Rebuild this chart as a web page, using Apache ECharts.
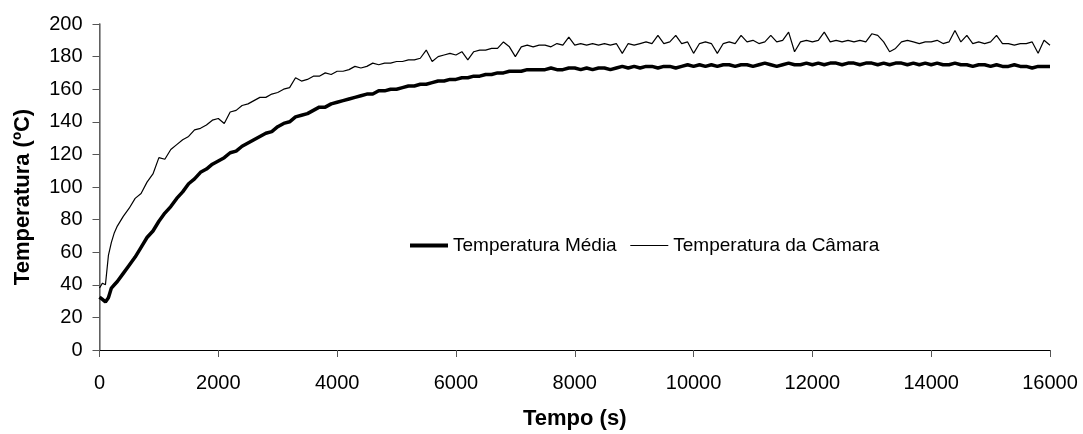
<!DOCTYPE html>
<html>
<head>
<meta charset="utf-8">
<script src="https://cdn.jsdelivr.net/npm/echarts@6/dist/echarts.min.js"></script>
<style>
html,body{margin:0;padding:0;background:#fff;}
#chart{width:1083px;height:434px;}
</style>
</head>
<body>
<div id="chart"></div>
<script>
// ---- DATA ----
const seriesNames = ['Temperatura Média', 'Temperatura da Câmara'];
const xTitle = 'Tempo (s)';
const yTitle = 'Temperatura (ºC)';

const times = [
  0, 50, 100, 150, 200, 250, 300,
  400, 500, 600, 700, 800, 900, 1000, 1100, 1200, 1300,
  1400, 1500, 1600, 1700, 1800, 1900, 2000, 2100, 2200, 2300,
  2400, 2500, 2600, 2700, 2800, 2900, 3000, 3100, 3200, 3300,
  3400, 3500, 3600, 3700, 3800, 3900, 4000, 4100, 4200, 4300,
  4400, 4500, 4600, 4700, 4800, 4900, 5000, 5100, 5200, 5300,
  5400, 5500, 5600, 5700, 5800, 5900, 6000, 6100, 6200, 6300,
  6400, 6500, 6600, 6700, 6800, 6900, 7000, 7100, 7200, 7300,
  7400, 7500, 7600, 7700, 7800, 7900, 8000, 8100, 8200, 8300,
  8400, 8500, 8600, 8700, 8800, 8900, 9000, 9100, 9200, 9300,
  9400, 9500, 9600, 9700, 9800, 9900, 10000, 10100, 10200, 10300,
  10400, 10500, 10600, 10700, 10800, 10900, 11000, 11100, 11200, 11300,
  11400, 11500, 11600, 11700, 11800, 11900, 12000, 12100, 12200, 12300,
  12400, 12500, 12600, 12700, 12800, 12900, 13000, 13100, 13200, 13300,
  13400, 13500, 13600, 13700, 13800, 13900, 14000, 14100, 14200, 14300,
  14400, 14500, 14600, 14700, 14800, 14900, 15000, 15100, 15200, 15300,
  15400, 15500, 15600, 15700, 15800, 15900, 16000
];

const tempMedia = [
  32.5, 31, 29.5, 32, 38, 40, 42,
  47, 52, 57, 63, 69, 73, 79, 84, 88, 93,
  97, 102, 105, 109, 111, 114, 116, 118, 121, 122,
  125, 127, 129, 131, 133, 134, 137, 139, 140, 143,
  144, 145, 147, 149, 149, 151, 152, 153, 154, 155,
  156, 157, 157, 159, 159, 160, 160, 161, 162, 162,
  163, 163, 164, 165, 165, 166, 166, 167, 167, 168,
  168, 169, 169, 170, 170, 171, 171, 171, 172, 172,
  172, 172, 173, 172, 172, 173, 173, 172, 173, 172,
  173, 173, 172, 173, 174, 173, 174, 173, 174, 174,
  173, 174, 174, 173, 174, 175, 174, 175, 174, 175,
  174, 175, 175, 174, 175, 175, 174, 175, 176, 175,
  174, 175, 176, 175, 175, 176, 175, 176, 175, 176,
  176, 175, 176, 176, 175, 176, 176, 175, 176, 175,
  176, 176, 175, 176, 175, 176, 175, 176, 175, 175,
  176, 175, 175, 174, 175, 175, 174, 175, 174, 174,
  175, 174, 174, 173, 174, 174, 174
];

const tempCamara = [
  38, 41, 40, 58, 66, 72, 76,
  82, 87, 93, 96, 103, 108, 118, 117, 123, 126,
  129, 131, 135, 136, 138, 141, 142, 139, 146, 147,
  150, 151, 153, 155, 155, 157, 158, 160, 161, 167,
  165, 166, 168, 168, 170, 169, 171, 171, 172, 174,
  173, 174, 176, 175, 176, 176, 177, 177, 178, 178,
  179, 184, 177, 180, 181, 182, 181, 183, 178, 183,
  184, 184, 185, 185, 189, 186, 180, 186, 187, 186,
  187, 187, 186, 188, 187, 192, 187, 188, 187, 188,
  187, 188, 187, 188, 182, 188, 187, 188, 189, 188,
  193, 188, 189, 193, 188, 189, 182, 188, 189, 188,
  182, 188, 189, 188, 193, 189, 190, 188, 189, 193,
  189, 190, 195, 183, 189, 190, 189, 190, 195, 189,
  190, 189, 190, 189, 190, 189, 194, 193, 189, 183,
  185, 189, 190, 189, 188, 189, 189, 190, 188, 189,
  196, 189, 193, 188, 189, 188, 189, 193, 188, 188,
  187, 188, 188, 189, 182, 190, 187
];

// ---- CHART ----
const FONT = '"Liberation Sans", Arial, sans-serif';
const pairs = (vals) => times.map((t, i) => [t, vals[i]]);

const chart = echarts.init(document.getElementById('chart'), null, {renderer: 'canvas'});
chart.setOption({
  animation: false,
  backgroundColor: '#ffffff',
  textStyle: {fontFamily: FONT, color: '#000'},
  grid: {left: 99.5, right: 33, top: 24, bottom: 84, containLabel: false, outerBoundsMode: 'none'},
  legend: {
    left: 403, top: 231,
    itemWidth: 38, itemHeight: 14, itemGap: 13,
    textStyle: {fontFamily: FONT, fontSize: 19, color: '#000'},
    data: [
      {name: seriesNames[0], itemStyle: {opacity: 0}, lineStyle: {width: 4, color: '#000'}},
      {name: seriesNames[1], itemStyle: {opacity: 0}, lineStyle: {width: 1.2, color: '#000'}}
    ]
  },
  xAxis: [{
    type: 'value', min: 0, max: 16000, interval: 2000,
    name: xTitle, nameLocation: 'middle', nameGap: 58,
    nameTextStyle: {fontFamily: FONT, fontSize: 22, fontWeight: 'bold', color: '#000'},
    axisLine: {onZero: false, lineStyle: {color: '#000', width: 1}},
    axisTick: {show: true, length: 7, inside: false, lineStyle: {color: '#555'}},
    axisLabel: {fontFamily: FONT, fontSize: 20, color: '#000', margin: 23,
      formatter: (v) => String(v)},
    splitLine: {show: false}
  }, {
    type: 'value', position: 'top', min: 0, max: 16000,
    axisLine: {show: true, lineStyle: {color: '#000', width: 1}},
    axisTick: {show: false}, axisLabel: {show: false}, splitLine: {show: false}
  }],
  yAxis: [{
    type: 'value', min: 0, max: 200, interval: 20,
    name: yTitle, nameLocation: 'middle', nameGap: 66, nameRotate: 90,
    nameTextStyle: {fontFamily: FONT, fontSize: 22, fontWeight: 'bold', color: '#000',
      padding: [0, 20, 0, 0]},
    axisLine: {show: true, onZero: false, lineStyle: {color: '#000', width: 1}},
    axisTick: {show: true, length: 7, lineStyle: {color: '#555'}},
    axisLabel: {fontFamily: FONT, fontSize: 20, color: '#000', margin: 17},
    splitLine: {show: false}
  }, {
    type: 'value', position: 'right', min: 0, max: 200,
    axisLine: {show: true, lineStyle: {color: '#808080', width: 1.5}},
    axisTick: {show: false}, axisLabel: {show: false}, splitLine: {show: false}
  }],
  series: [{
    name: seriesNames[0], type: 'line', data: pairs(tempMedia),
    symbol: 'none', lineStyle: {color: '#000', width: 3.5}, itemStyle: {color: '#000'}
  }, {
    name: seriesNames[1], type: 'line', data: pairs(tempCamara),
    symbol: 'none', lineStyle: {color: '#000', width: 1.2}, itemStyle: {color: '#000'}
  }]
});
</script>
</body>
</html>
